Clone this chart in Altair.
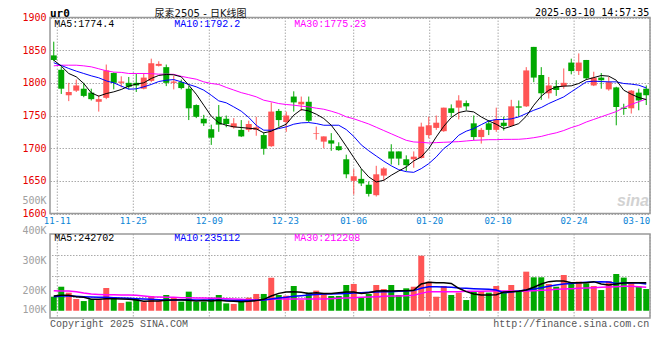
import altair as alt
import pandas as pd

# ---------------- data ----------------
dates = ["11-08","11-11","11-12","11-13","11-14","11-15","11-18","11-19","11-20","11-21","11-22",
         "11-25","11-26","11-27","11-28","11-29",
         "12-02","12-03","12-04","12-05","12-06","12-09","12-10","12-11","12-12","12-13",
         "12-16","12-17","12-18","12-19","12-20","12-23","12-24","12-25","12-26","12-27","12-30","12-31",
         "01-02","01-03","01-06","01-07","01-08","01-09","01-10","01-13","01-14","01-15","01-16","01-17",
         "01-20","01-21","01-22","01-23","01-24","01-27",
         "02-05","02-06","02-07","02-10","02-11","02-12","02-13","02-14","02-17","02-18","02-19","02-20","02-21",
         "02-24","02-25","02-26","02-27","02-28",
         "03-03","03-04","03-05","03-06","03-07","03-10"]

opens = [1842,1820,1781,1788,1791,1785,1771,1777,1815,1800,
         1800,1800,1791,1803,1826,1824,1800,1801,1791,1766,
         1745,1729,1748,1745,1732,1728,1728,1728,1720,1703,
         1757,1740,1779,1767,1771,1722,1710,1712,1703,1683,
         1650,1653,1644,1628,1658,1695,1695,1683,1683,1685,
         1720,1731,1726,1761,1762,1769,1738,1717,1738,1728,
         1739,1734,1764,1764,1855,1812,1784,1795,1795,1831,
         1818,1835,1796,1808,1790,1793,1762,1761,1785,1791]
highs = [1863,1825,1800,1805,1800,1791,1781,1828,1816,1810,
         1809,1814,1815,1837,1833,1828,1811,1805,1795,1767,
         1751,1736,1766,1750,1746,1743,1742,1748,1724,1770,
         1760,1756,1787,1779,1779,1733,1718,1723,1709,1690,
         1668,1668,1649,1673,1671,1706,1695,1689,1695,1739,
         1748,1750,1762,1767,1781,1773,1750,1731,1743,1762,
         1748,1774,1773,1824,1855,1824,1809,1804,1822,1837,
         1845,1835,1817,1815,1809,1794,1768,1789,1791,1796]
lows = [1833,1783,1772,1786,1778,1773,1756,1775,1790,1793,
        1790,1786,1790,1801,1825,1795,1790,1790,1743,1746,
        1734,1705,1725,1732,1730,1717,1725,1719,1690,1702,
        1733,1725,1756,1757,1740,1713,1700,1696,1696,1654,
        1629,1642,1626,1626,1650,1675,1674,1665,1670,1684,
        1715,1728,1725,1748,1744,1758,1712,1707,1720,1725,
        1727,1733,1748,1763,1801,1774,1776,1780,1791,1813,
        1812,1805,1795,1791,1788,1735,1751,1753,1758,1766]
closes = [1835,1791,1786,1796,1780,1775,1775,1819,1800,1802,
          1794,1796,1808,1830,1829,1800,1802,1792,1761,1748,
          1738,1716,1736,1737,1738,1718,1737,1732,1699,1756,
          1743,1750,1770,1771,1742,1723,1718,1707,1697,1660,
          1657,1646,1630,1660,1669,1684,1684,1674,1687,1733,
          1735,1739,1762,1754,1773,1764,1717,1728,1728,1744,
          1734,1764,1762,1819,1808,1784,1796,1789,1800,1818,
          1831,1807,1808,1804,1801,1763,1760,1788,1773,1781]

ma5 = [1834.7,1825.6,1814.3,1809.2,1799,1784.7,1779.6,1783.6,1786.2,1789.8,
       1794.9,1798,1800,1806.7,1811.3,1812.8,1812.3,1809.2,1796.4,1782.6,
       1765.8,1749,1738.7,1735.1,1732.6,1731.6,1730.5,1729.5,1723.4,1725.9,
       1731.6,1736.7,1750.5,1759.1,1757,1752,1745.4,1735.1,1719.8,1702.9,
       1685.6,1668.7,1656,1648.3,1650.8,1658.5,1665.1,1671.3,1680.5,1686.6,
       1699.3,1717.2,1733.5,1746.8,1754.5,1757,1755.5,1747.8,1741.7,1736.6,
       1730,1733.5,1737.6,1748.9,1765.7,1779.5,1788.7,1793.8,1794.9,1795.4,
       1799,1805,1808,1811.2,1810.2,1804,1788.7,1782.6,1777.5,1774.4]
ma10 = [1830.7,1826.6,1822,1817.9,1814.3,1810.7,1807.7,1803,1800,1795,
        1790.3,1790.8,1793.9,1797.5,1802,1804,1805,1801.5,1797.5,1793.9,
        1788.8,1781,1772.4,1769.4,1763.2,1756.6,1747,1735,1727.5,1727.5,
        1730,1732.6,1736.7,1738.7,1739.2,1737.7,1735.1,1735.1,1735.1,1728.5,
        1718,1705,1696,1688,1680,1673,1667,1664,1663,1668.7,
        1676.3,1686.6,1699.3,1708,1719.8,1726,1730,1736,1741.7,1743.8,
        1743.8,1744.8,1747.8,1753,1758,1762.2,1768.3,1773.4,1778.5,1786.2,
        1793.8,1801.5,1802.5,1802,1801.5,1801.5,1799,1798,1796.4,1792.2]
ma30 = [1826,1827,1827,1827,1826,1824.5,1821.5,1818.4,1816.4,1816,
        1814.3,1814.3,1814.3,1814,1813.3,1813.3,1813,1810,1807.7,1805.6,
        1801.5,1799,1797.5,1793,1789,1785,1782,1778.6,1773.4,1771,
        1768.3,1766.8,1765.8,1764.3,1763.2,1761.2,1759.6,1756.6,1753,1748,
        1745,1741,1737,1732,1727,1722,1717,1712,1709.5,1709,
        1708,1708.5,1709,1709.5,1710,1711,1712,1712.5,1713,1713,
        1713.5,1713.5,1713.6,1714.5,1716,1718,1721,1723.5,1727,1731.5,
        1735,1740,1744,1748,1752,1756,1762,1767,1771,1775.23]

# volume in thousands (K)
vols = [147,216,175,131,117,129,131,207,143,104,
        113,131,110,152,117,159,143,113,182,113,
        113,140,159,101,97,113,140,166,166,278,
        159,154,221,124,175,189,166,152,152,228,
        235,143,166,228,200,228,159,205,216,430,
        251,147,221,159,175,124,182,186,175,221,
        175,228,186,320,281,281,235,216,297,244,
        251,239,221,193,255,304,279,239,216,200]
vma5 = [152,157,157,147,143,129,129,133,133,131,
        129,124,115,117,117,122,124,124,122,117,
        120,117,122,117,115,113,115,120,129,152,
        170,179,182,177,170,175,170,170,175,179,
        179,170,175,186,189,186,189,189,191,235,
        246,244,244,239,205,182,166,159,159,161,
        179,182,184,193,212,235,251,256,256,244,
        244,244,251,235,228,235,242,244,244,242.702]
vma10 = [147,152,152,150,147,145,143,143,140,138,
         136,133,131,129,126,124,124,126,126,124,
         124,124,124,122,120,120,120,122,124,131,
         138,143,150,154,159,163,166,166,168,170,
         173,175,177,179,182,182,184,186,189,205,
         216,216,214,212,207,205,202,200,198,193,
         175,179,186,193,200,209,219,228,235,239,
         244,246,248,251,248,239,242,244,242,235.112]
vma30 = [188,186,186,182,173,166,163,161,161,159,
         159,157,152,147,145,143,143,140,140,138,
         138,136,136,133,131,129,126,126,126,129,
         131,131,131,131,131,131,131,133,136,138,
         140,143,145,147,150,152,152,154,157,170,
         182,182,182,182,182,184,184,184,186,186,
         186,186,184,186,189,191,193,198,200,202,
         205,207,209,212,214,216,219,219,216,212.208]

price_ticks = [1600, 1650, 1700, 1750, 1800, 1850, 1900]
vol_grid = [145, 290, 435]
vol_labels = ["500K", "400K", "300K", "200K", "100K"]
grid_dates = ["11-11", "11-25", "12-09", "12-23", "01-06", "01-20", "02-10", "02-24", "03-10"]
price_legend = ["MA5:1774.4", "MA10:1792.2", "MA30:1775.23"]
vol_legend = ["MA5:242702", "MA10:235112", "MA30:212208"]
ma_colors = ["#000000", "#0000ff", "#ff00ff"]

# ---------------- frames ----------------
df = pd.DataFrame({"date": dates, "open": opens, "high": highs, "low": lows, "close": closes,
                   "vol": vols, "ma5": ma5, "ma10": ma10, "ma30": ma30,
                   "vma5": vma5, "vma10": vma10, "vma30": vma30})
df["dir"] = ["up" if c >= o else "down" for o, c in zip(opens, closes)]
gdf = pd.DataFrame({"label": grid_dates, "pos": [dates.index(d) for d in grid_dates]})
ONE = pd.DataFrame({"v": [0]})

W, H = 600, 300
RED, GREEN = "#ff5555", "#00a800"
GRID = "#aaaaaa"
DASH = [1.5, 1.5]
MONO = "Liberation Mono"
DMONO = "DejaVu Sans Mono"

PRICE = alt.Scale(domain=[1600, 1900], range=[195.5, -0.5], nice=False, zero=False)
VOL = alt.Scale(domain=[0, 580], range=[300, 216], nice=False, zero=False)
XB = alt.X("date:N", scale=alt.Scale(type="band", domain=dates, range=[0, W], paddingInner=0, paddingOuter=0), axis=None)
XP = alt.X("date:N", scale=alt.Scale(type="point", domain=dates, range=[0, W], padding=0.5), axis=None)
XG = alt.X("pos:Q", scale=alt.Scale(domain=[0, 79], range=[-0.3, 600.1], nice=False, zero=False), axis=None)
COL = alt.Color("dir:N", scale=alt.Scale(domain=["up", "down"], range=[RED, GREEN]), legend=None)

price_axis = alt.Axis(values=price_ticks, orient="left", title=None, format="d", grid=True, gridColor=GRID,
                      gridDash=DASH, gridWidth=1, domain=False, ticks=False, tickSize=0,
                      labelPadding=4, labelColor="#e60000", labelFont=DMONO, labelFontSize=10,
                      labelFlush=False, labelOverlap=False)
vol_axis = alt.Axis(values=vol_grid, title=None, grid=True, gridColor=GRID, gridDash=DASH,
                    gridWidth=1, labels=False, domain=False, ticks=False, tickSize=0)

layers = []

# vertical dotted grid lines (price and volume panels)
layers.append(alt.Chart(gdf).mark_rule(color=GRID, strokeDash=DASH, strokeWidth=1).encode(
    x=XG, y=alt.YDatum(1900, scale=PRICE, axis=None), y2=alt.Y2Datum(1600)))
layers.append(alt.Chart(gdf).mark_rule(color=GRID, strokeDash=DASH, strokeWidth=1).encode(
    x=XG, y=alt.YDatum(580, scale=VOL, axis=None), y2=alt.Y2Datum(0)))

# candles
layers.append(alt.Chart(df).mark_rule(strokeWidth=1).encode(
    x=XP, y=alt.Y("low:Q", scale=PRICE, axis=price_axis), y2="high:Q", color=COL))
layers.append(alt.Chart(df).mark_bar(size=6).encode(
    x=XB, y=alt.Y("open:Q", scale=PRICE, axis=None), y2="close:Q", color=COL))

# price moving averages
for name, c in [("ma30", ma_colors[2]), ("ma10", ma_colors[1]), ("ma5", ma_colors[0])]:
    layers.append(alt.Chart(df).mark_line(color=c, strokeWidth=1).encode(
        x=XP, y=alt.Y(f"{name}:Q", scale=PRICE, axis=None)))

# volume bars
layers.append(alt.Chart(df).mark_bar(size=6).encode(
    x=XB, y=alt.Y("vol:Q", scale=VOL, axis=vol_axis), y2=alt.Y2Datum(50), color=COL))
for name, c in [("vma30", ma_colors[2]), ("vma10", ma_colors[1]), ("vma5", ma_colors[0])]:
    layers.append(alt.Chart(df).mark_line(color=c, strokeWidth=1.5).encode(
        x=XP, y=alt.Y(f"{name}:Q", scale=VOL, axis=None)))

# panel borders
layers.append(alt.Chart(ONE).mark_rect(fillOpacity=0, stroke="#999999", strokeWidth=1.5).encode(
    x=alt.value(0), x2=alt.value(W), y=alt.YDatum(1900, scale=PRICE, axis=None), y2=alt.Y2Datum(1600)))
layers.append(alt.Chart(ONE).mark_rect(fillOpacity=0, stroke="#999999", strokeWidth=1.5).encode(
    x=alt.value(0), x2=alt.value(W), y=alt.YDatum(580, scale=VOL, axis=None), y2=alt.Y2Datum(0)))

# date labels under the price panel
layers.append(alt.Chart(gdf.iloc[:-1]).mark_text(font=DMONO, fontSize=9, color="#0a84d6",
                                                 baseline="middle", align="center", dy=7.5).encode(
    x=XG, y=alt.YDatum(1600, scale=PRICE, axis=None), text="label:N"))
layers.append(alt.Chart(gdf.iloc[-1:]).mark_text(font=DMONO, fontSize=9, color="#0a84d6",
                                                 baseline="middle", align="right", dy=7.5).encode(
    x=XG, y=alt.YDatum(1600, scale=PRICE, axis=None), text="label:N"))


def txt(s, x, y, color="#000000", size=10, font=MONO, align="left", baseline="middle", **kw):
    return alt.Chart(ONE).mark_text(text=s, align=align, baseline=baseline, font=font,
                                    fontSize=size, color=color, **kw).encode(
        x=alt.value(x), y=alt.value(y))


# volume axis labels (as drawn by the source)
for lab, yy in zip(vol_labels, [182.7, 212.7, 242.7, 272.7, 292.3]):
    layers.append(txt(lab, -3.5, yy, color="#a0a0a0", font=DMONO, align="right"))

# legends
for i, (pl, vl, c) in enumerate(zip(price_legend, vol_legend, ma_colors)):
    layers.append(txt(pl, 4.3 + 120 * i, 5.7, color=c))
    layers.append(txt(vl, 4.3 + 120 * i, 220.3, color=c))

# header (kept inside the drawing's top edge)
layers.append(txt("ur0", 0, -1, font=DMONO, size=11, baseline="alphabetic", fontWeight="bold"))
layers.append(txt("尿素2505 - 日K线图", 150.5, -0.6, font="DejaVu Sans, Noto Sans CJK SC", size=10,
                  align="center", baseline="alphabetic", color="#111111"))
layers.append(txt("2025-03-10 14:57:35", 599.3, -2, font=DMONO, size=10,
                  align="right", baseline="alphabetic"))

# footer and watermark
layers.append(txt("Copyright 2025 SINA.COM", 0, 305.5, color="#555555"))
layers.append(txt("http://finance.sina.com.cn", 599.3, 305.5, color="#555555", align="right"))
layers.append(txt("sina", 583, 183, color="#d2d2d2", size=16, font="Liberation Sans",
                  align="center", fontStyle="italic", fontWeight="bold"))

chart = alt.layer(*layers).resolve_scale(x="independent", y="independent").properties(
    width=W, height=H,
    padding={"left": 42, "top": 10, "right": 2, "bottom": 32},
    autosize=alt.AutoSizeParams(type="none"),
    background="white",
).configure_view(strokeWidth=0)

chart.save("out.html", embed_options={"renderer": "svg", "actions": False})
